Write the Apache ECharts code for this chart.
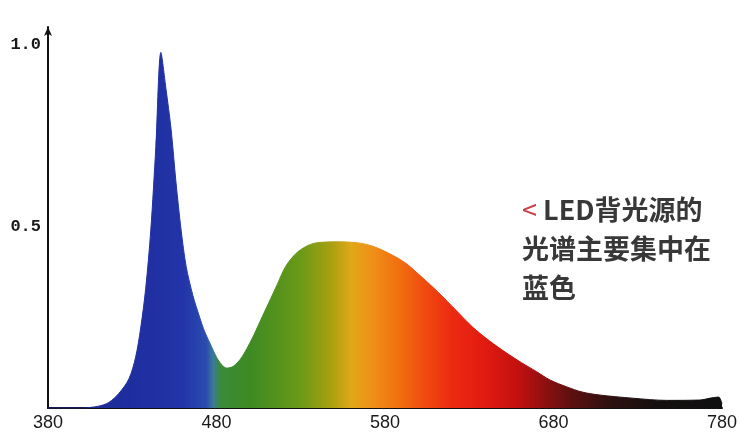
<!DOCTYPE html>
<html>
<head>
<meta charset="utf-8">
<script src="https://cdn.jsdelivr.net/npm/echarts@6/dist/echarts.min.js"></script>
<style>
  html, body { margin: 0; padding: 0; background: #fff; }
  #main { width: 741px; height: 437px; }
</style>
</head>
<body>
<div id="main"></div>
<script>
// 波长 (nm)
const wavelengths = [380, 400, 410, 416, 422, 428, 432, 435, 438, 441, 444, 447, 450, 453, 456, 459, 462, 466, 470, 473, 477, 480, 483, 486, 490, 495, 501, 506, 511, 516, 521, 527, 533, 539, 552, 564, 572, 582, 592, 602, 612, 622, 632, 642, 652, 661, 670, 678, 688, 697, 707, 727, 747, 767, 774, 778, 780]
// 相对强度
const intensity = [0, 0, 0.005, 0.015, 0.04, 0.08, 0.14, 0.22, 0.33, 0.49, 0.72, 0.98, 0.88, 0.77, 0.62, 0.49, 0.39, 0.31, 0.25, 0.21, 0.17, 0.14, 0.12, 0.11, 0.115, 0.14, 0.19, 0.24, 0.29, 0.34, 0.39, 0.425, 0.445, 0.455, 0.458, 0.455, 0.447, 0.427, 0.40, 0.36, 0.317, 0.27, 0.223, 0.185, 0.152, 0.125, 0.1, 0.077, 0.058, 0.044, 0.036, 0.027, 0.021, 0.022, 0.028, 0.03, 0.012]
const xTicks = [380, 480, 580, 680, 780]
const yTicks = [0.5, 1.0]

const chart = echarts.init(document.getElementById('main'))

// 光谱颜色 (按波长)
const spectrum = [
  [380, '#1a2490'], [460, '#2234a8'], [474, '#2c4cb0'], [478, '#3a7a9a'],
  [482, '#3a8a3a'], [500, '#3e8a22'], [530, '#6a9a18'], [548, '#a8a010'],
  [560, '#e0a818'], [572, '#f09018'], [588, '#f07010'], [604, '#f04a10'],
  [620, '#ec2a12'], [640, '#e01a10'], [660, '#c01010'], [676, '#8a1010'],
  [692, '#5a1010'], [712, '#301010'], [740, '#151010'], [780, '#101010']
]
const stops = spectrum.map(s => ({ offset: (s[0] - 380) / 400, color: s[1] }))
const grad = new echarts.graphic.LinearGradient(0, 0, 1, 0, stops)

const option = {
  backgroundColor: '#fff',
  animation: false,
  grid: { left: 48, right: 19, top: 27, bottom: 29 },
  xAxis: {
    type: 'value',
    min: 380,
    max: 780,
    interval: 100,
    axisLine: { lineStyle: { color: '#111', width: 2 } },
    axisTick: { show: false },
    splitLine: { show: false },
    axisLabel: {
      color: '#1a1a1a',
      fontSize: 18,
      fontFamily: 'Liberation Sans Narrow, Liberation Sans, sans-serif',
      margin: 6,
      formatter: v => xTicks.includes(v) ? String(v) : ''
    }
  },
  yAxis: {
    type: 'value',
    min: 0,
    max: 1.05,
    interval: 0.5,
    axisLine: { show: true, symbol: ['none', 'arrow'], symbolSize: [6, 9], lineStyle: { color: '#111', width: 2 } },
    axisTick: { show: false },
    splitLine: { show: false },
    axisLabel: {
      color: '#1a1a1a',
      fontSize: 17,
      fontWeight: 'bold',
      fontFamily: 'Liberation Mono, DejaVu Sans Mono, monospace',
      margin: 7,
      formatter: v => yTicks.some(t => Math.abs(t - v) < 1e-6) ? v.toFixed(1) : ''
    }
  },
  series: [{
    type: 'line',
    data: wavelengths.map((w, i) => [w, intensity[i]]),
    smooth: 0.3,
    symbol: 'none',
    lineStyle: { width: 1, color: grad },
    areaStyle: { color: grad, opacity: 1 },
    z: 1
  }],
  graphic: [{
    type: 'text',
    left: 522,
    top: 190,
    style: {
      text: '{r|<} LED背光源的\n光谱主要集中在\n蓝色',
      font: 'bold 27px "Noto Sans CJK SC", sans-serif',
      fill: '#383838',
      lineHeight: 39,
      rich: {
        r: { fill: '#c8404a', fontSize: 27, fontFamily: 'Noto Sans CJK SC', lineHeight: 39 }
      }
    }
  }]
}

chart.setOption(option)
</script>
</body>
</html>
